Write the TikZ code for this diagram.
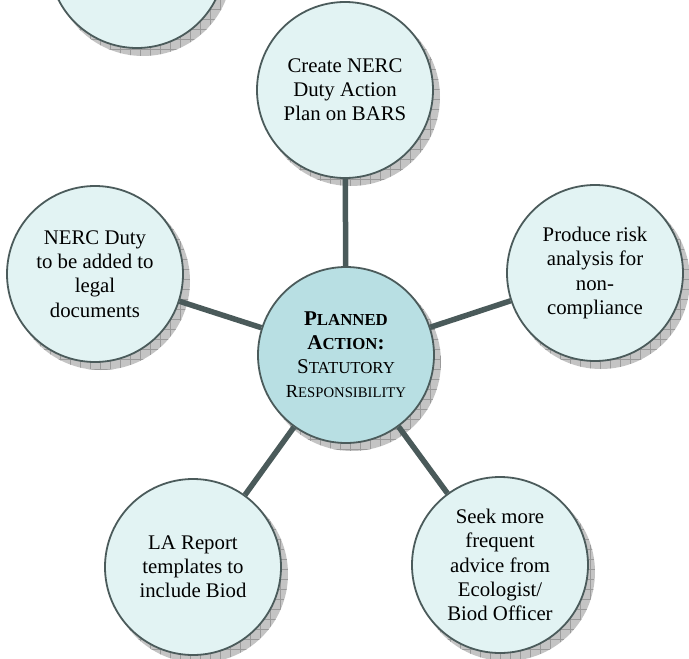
\documentclass[tikz,border=0pt]{standalone}
\usepackage{fontspec}
\setmainfont{Liberation Serif}
\usetikzlibrary{patterns.meta,backgrounds}
\definecolor{rimcol}{HTML}{4B5B5B}
\definecolor{outerfill}{HTML}{E2F3F3}
\definecolor{centerfill}{HTML}{B8DFE3}
\definecolor{linkcol}{HTML}{4A5A5A}
\definecolor{shadowfill}{HTML}{C4C4C4}
\definecolor{shadowline}{HTML}{9A9A9A}
\tikzset{
  bubble/.style={circle, draw=rimcol, line width=1.8pt, fill=outerfill,
    minimum size=176pt, inner sep=0pt, align=center, text=black,
    font=\fontsize{20.8}{24.2}\selectfont},
  hubbubble/.style={bubble, fill=centerfill, font=\fontsize{21}{24}\selectfont},
  shadowdisc/.style={fill=shadowfill},
  shadowgrid/.style={pattern={Hatch[angle=0,distance=10pt,line width=0.5pt]}, pattern color=shadowline},
  link/.style={draw=linkcol, line width=5.5pt}
}
\begin{document}
\begin{tikzpicture}[x=1pt,y=-1pt]
\clip (0,0) rectangle (689,659);
\node[bubble] (tl) at (137,-40) {};
\node[bubble] (top) at (345,90) {Create NERC\\Duty Action\\Plan on BARS};
\node[bubble] (left) at (95,274) {NERC Duty\\to be added to\\legal\\documents};
\node[bubble] (right) at (595,273) {Produce risk\\analysis for\\non-\\compliance};
\node[bubble] (bl) at (193,567) {LA Report\\templates to\\include Biod};
\node[bubble] (br) at (500,565) {Seek more\\frequent\\advice from\\Ecologist/\\Biod Officer};
\node[hubbubble] (hub) at (346,355) {%
{\bfseries P{\fontsize{16.8}{24}\selectfont LANNED}}\\
{\bfseries A{\fontsize{16.8}{24}\selectfont CTION}:}\\
S{\fontsize{16.8}{24}\selectfont TATUTORY}\\
{\fontsize{18.4}{24}\selectfont R{\fontsize{14.7}{24}\selectfont ESPONSIBILITY}}};
\begin{pgfonlayer}{background}
  \foreach \n in {tl,top,left,right,bl,br,hub}{
    \fill[shadowdisc] ([shift={(6,7)}]\n.center) circle (89);
    \fill[shadowgrid] ([shift={(6,7)}]\n.center) circle (89);
  }
  \draw[link] (hub) -- (top);
  \draw[link] (hub) -- (left);
  \draw[link] (hub) -- (right);
  \draw[link] (hub) -- (bl);
  \draw[link] (hub) -- (br);
\end{pgfonlayer}
\end{tikzpicture}
\end{document}
